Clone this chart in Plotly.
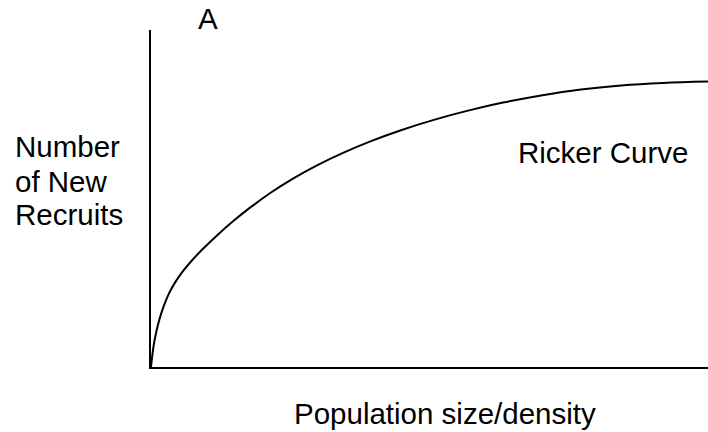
import plotly.graph_objects as go

# Data (arbitrary units)
population = [0, 1, 2, 3, 4, 6, 9, 13, 18, 24, 31, 40, 52, 66, 82, 100, 120, 142, 166,
              192, 220, 250, 282, 316, 352, 390, 430, 470, 512, 557]
recruits = [0, 9, 17, 23.5, 29, 38.2, 49.6, 61.6, 73.6, 84.4, 94.6, 105.5, 118.2, 131.6,
            145.7, 160.1, 174.5, 188.4, 201.6, 214.1, 225.9, 236.8, 246.9, 256.1, 264.4,
            271.6, 277.6, 281.6, 284.1, 285.5]

x_range = [0, 557]
y_range = [0, 337]

W, H = 708, 432
L, R, T, B = 151, 0, 30, 65

def px(xp):
    return (xp - L) / (W - L - R)

def py(yp):
    return (H - B - yp) / (H - T - B)

FONT = "Arial, Liberation Sans, sans-serif"
FS = 29.5

fig = go.Figure()
fig.add_trace(go.Scatter(x=population, y=recruits, mode="lines",
                         line=dict(color="black", width=2, shape="spline", smoothing=1),
                         hoverinfo="skip", showlegend=False, cliponaxis=False))

ann = [
    dict(text="A", x=px(207.5), y=py(18), xanchor="center"),
    dict(text="Number", x=px(13), y=py(146.5), xanchor="left"),
    dict(text="of New", x=px(13), y=py(181), xanchor="left"),
    dict(text="Recruits", x=px(13), y=py(214), xanchor="left"),
    dict(text="Ricker Curve", x=px(690), y=py(152), xanchor="right"),
    dict(text="Population size/density", x=px(445), y=py(413), xanchor="center"),
]
for a in ann:
    fig.add_annotation(text=a["text"], x=a["x"], y=a["y"], xref="paper", yref="paper",
                       xanchor=a["xanchor"], yanchor="middle", showarrow=False,
                       font=dict(family=FONT, size=FS, color="black"))

fig.update_layout(
    width=W, height=H,
    margin=dict(l=L, r=R, t=T, b=B),
    paper_bgcolor="white", plot_bgcolor="white",
    xaxis=dict(range=x_range, showline=True, linecolor="black", linewidth=2,
               showgrid=False, zeroline=False, showticklabels=False, ticks=""),
    yaxis=dict(range=y_range, showline=True, linecolor="black", linewidth=2,
               showgrid=False, zeroline=False, showticklabels=False, ticks=""),
)

fig.write_html("out.html", config={"displayModeBar": False},
               post_script="document.body.style.margin='0';document.body.style.overflow='hidden';")
